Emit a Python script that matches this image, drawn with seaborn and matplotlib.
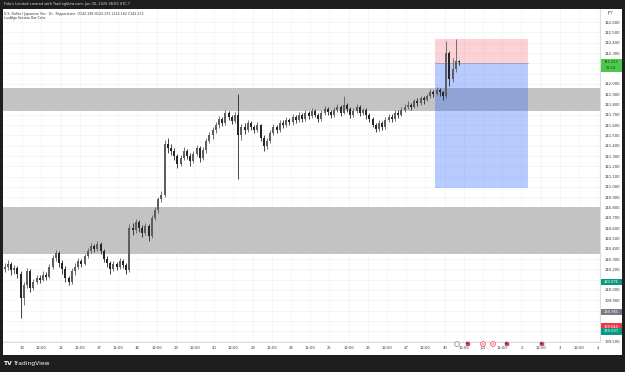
import matplotlib
matplotlib.use("Agg")
import matplotlib.pyplot as plt
import matplotlib.transforms as mtransforms
from matplotlib.patches import Rectangle, Circle
import numpy as np
import pandas as pd
import seaborn as sns

sns.set_theme(style="white")
plt.rcParams['font.family'] = ['DejaVu Sans']

# ---------------- data (2h candles, USD/JPY) ----------------
first_open = 140.20
close = [
    # Jun 12 (from 12:00)
    140.22, 140.25, 140.19, 140.21, 140.16, 139.92,
    # Jun 13
    140.05, 140.18, 140.02, 140.08, 140.12, 140.10, 140.15, 140.13, 140.22, 140.31, 140.36, 140.26,
    # Jun 16
    140.20, 140.12, 140.08, 140.18, 140.22, 140.28, 140.25, 140.33, 140.38, 140.43, 140.40, 140.45,
    # Jun 17
    140.38, 140.30, 140.26, 140.20, 140.25, 140.22, 140.28, 140.24, 140.19, 140.60, 140.58, 140.66,
    # Jun 18
    140.60, 140.55, 140.62, 140.52, 140.70, 140.78, 140.88, 140.92, 141.42, 141.38, 141.35, 141.30,
    # Jun 19
    141.22, 141.28, 141.35, 141.30, 141.25, 141.32, 141.38, 141.28, 141.36, 141.45, 141.50, 141.55,
    # Jun 20
    141.60, 141.66, 141.62, 141.72, 141.68, 141.64, 141.70, 141.50, 141.58, 141.55, 141.62, 141.58,
    # Jun 23
    141.55, 141.60, 141.48, 141.40, 141.45, 141.52, 141.58, 141.55, 141.62, 141.60, 141.65, 141.63,
    # Jun 24
    141.68, 141.65, 141.70, 141.66, 141.72, 141.69, 141.74, 141.70, 141.66, 141.72, 141.76, 141.73,
    # Jun 25
    141.70, 141.75, 141.78, 141.72, 141.80, 141.76, 141.70, 141.74, 141.78, 141.72, 141.75, 141.70,
    # Jun 26
    141.66, 141.60, 141.56, 141.62, 141.58, 141.65, 141.68, 141.66, 141.72, 141.70, 141.75, 141.78,
    # Jun 27
    141.80, 141.78, 141.83, 141.82, 141.86, 141.84, 141.88, 141.92, 141.90, 141.94, 141.92, 141.88,
    # Jun 30
    142.30, 142.05, 142.15, 142.22, 142.213,
]
high = [
    140.26, 140.29, 140.27, 140.24, 140.23, 140.18,
    140.08, 140.21, 140.20, 140.11, 140.15, 140.15, 140.18, 140.17, 140.25, 140.34, 140.39, 140.38,
    140.29, 140.23, 140.14, 140.21, 140.26, 140.31, 140.30, 140.35, 140.41, 140.46, 140.45, 140.48,
    140.47, 140.40, 140.33, 140.28, 140.28, 140.27, 140.31, 140.30, 140.26, 140.64, 140.65, 140.69,
    140.68, 140.63, 140.65, 140.64, 140.73, 140.81, 140.90, 140.96, 141.46, 141.48, 141.42, 141.38,
    141.32, 141.31, 141.39, 141.37, 141.33, 141.35, 141.41, 141.40, 141.39, 141.48, 141.53, 141.58,
    141.63, 141.69, 141.68, 141.75, 141.74, 141.70, 141.73, 141.90, 141.61, 141.62, 141.65, 141.64,
    141.60, 141.63, 141.61, 141.50, 141.48, 141.55, 141.61, 141.60, 141.65, 141.65, 141.68, 141.67,
    141.71, 141.70, 141.73, 141.72, 141.75, 141.74, 141.77, 141.76, 141.72, 141.75, 141.79, 141.78,
    141.75, 141.78, 141.81, 141.80, 141.88, 141.82, 141.78, 141.77, 141.81, 141.80, 141.77, 141.77,
    141.72, 141.68, 141.62, 141.65, 141.64, 141.68, 141.71, 141.71, 141.75, 141.75, 141.78, 141.81,
    141.83, 141.82, 141.85, 141.86, 141.88, 141.88, 141.90, 141.95, 141.94, 141.97, 141.96, 141.93,
    142.42, 142.32, 142.25, 142.44, 142.235,
]
low = [
    140.17, 140.19, 140.15, 140.16, 140.12, 139.73,
    139.85, 140.02, 139.98, 140.00, 140.06, 140.07, 140.09, 140.10, 140.12, 140.20, 140.28, 140.22,
    140.16, 140.08, 140.05, 140.06, 140.15, 140.20, 140.22, 140.24, 140.31, 140.36, 140.37, 140.38,
    140.35, 140.27, 140.22, 140.16, 140.18, 140.19, 140.20, 140.21, 140.16, 140.17, 140.53, 140.55,
    140.56, 140.51, 140.53, 140.48, 140.50, 140.68, 140.75, 140.85, 140.90, 141.33, 141.31, 141.26,
    141.18, 141.20, 141.26, 141.27, 141.20, 141.23, 141.30, 141.24, 141.26, 141.33, 141.43, 141.47,
    141.52, 141.57, 141.59, 141.60, 141.65, 141.61, 141.62, 141.08, 141.46, 141.51, 141.53, 141.55,
    141.52, 141.53, 141.45, 141.35, 141.37, 141.43, 141.50, 141.52, 141.53, 141.57, 141.58, 141.60,
    141.60, 141.62, 141.63, 141.63, 141.64, 141.66, 141.67, 141.68, 141.63, 141.64, 141.70, 141.70,
    141.67, 141.68, 141.73, 141.69, 141.71, 141.73, 141.67, 141.68, 141.72, 141.69, 141.70, 141.66,
    141.63, 141.58, 141.53, 141.54, 141.55, 141.56, 141.63, 141.63, 141.64, 141.67, 141.69, 141.73,
    141.76, 141.75, 141.77, 141.79, 141.80, 141.81, 141.83, 141.86, 141.87, 141.89, 141.88, 141.84,
    141.86, 141.98, 142.02, 142.12, 142.182,
]
day_labels = ["13", "16", "17", "18", "19", "20", "23", "24", "25", "26", "27",
              "30", "Jul", "2", "3", "4"]
first_day_offset = 6      # candles of Jun 12 shown before Jun 13
candles_per_day = 12

upper_zone = (141.738, 141.961)
lower_zone = (140.350, 140.806)
pos_entry, pos_stop, pos_target = 142.20, 142.44, 140.99
pos_start, pos_end = 134.5, 163.6

last_price = 142.213
side_labels = [(140.076, "140.076", "#089981"), (139.785, "139.785", "#787b86"),
               (139.644, "139.644", "#f23645"), (139.597, "139.597", "#089981")]

# ---------------- figure ----------------
W, H = 625, 372
XMIN, XMAX = -0.5, 186.06
YMIN, YMAX = 139.495, 142.728
fig = plt.figure(figsize=(W / 100, H / 100), dpi=100, facecolor="#1e1e1e")
fig.patches.append(Rectangle((3 / W, (H - 355) / H), (622 - 3) / W, (355 - 9) / H,
                             transform=fig.transFigure, facecolor="white",
                             edgecolor="none", zorder=-5))

ax = fig.add_axes([3 / W, (H - 342) / H, 597 / W, 333 / H])
ax.set_zorder(2)
ax.set_facecolor("white")

n = len(close)
opens = [first_open] + close[:-1]
df = pd.DataFrame({"i": np.arange(n), "open": opens, "high": high,
                   "low": low, "close": close})
df["up"] = df["close"] >= df["open"]

# zones
for lo, hi in (upper_zone, lower_zone):
    ax.axhspan(lo, hi, color="#c3c3c3", zorder=1, lw=0)

# position box
ax.add_patch(Rectangle((pos_start, pos_entry), pos_end - pos_start, pos_stop - pos_entry,
                       facecolor="#f23645", alpha=0.22, edgecolor="none", zorder=2))
ax.add_patch(Rectangle((pos_start, pos_target), pos_end - pos_start, pos_entry - pos_target,
                       facecolor="#2962ff", alpha=0.33, edgecolor="none", zorder=2))
ax.plot([pos_start, pos_end], [pos_entry, pos_entry], color="#9598a1", lw=0.5, zorder=2.5)

# candles
col_up, col_dn = "#5e5e5e", "#262626"
for _, r in df.iterrows():
    c = col_up if r["up"] else col_dn
    ax.vlines(r["i"], r["low"], r["high"], color=c, lw=0.6, zorder=3)
    bot = min(r["open"], r["close"])
    h = max(abs(r["close"] - r["open"]), 0.006)
    ax.bar(r["i"], h, bottom=bot, width=0.62, color=c, lw=0, zorder=3.5)

# x ticks (only those inside the view)
xt, xl = [], []
for k, lab in enumerate(day_labels):
    s = first_day_offset + k * candles_per_day - 0.5
    for pos, txt in ((s, lab), (s + candles_per_day / 2, "12:00")):
        if XMIN <= pos <= XMAX:
            xt.append(pos); xl.append(txt)
ax.set_xticks(xt)
ax.set_xticklabels(xl)
ax.tick_params(axis="x", length=0, pad=3.2, labelsize=2.7, colors="#333333")

# y ticks (right); labels hidden where a coloured price tag covers them
px = 103.0  # pixels per 1.0 price
yt = np.round(np.arange(139.5, 142.65, 0.1), 1)
covered = [last_price] + [p for p, _, _ in side_labels]
ylabs = []
for v in yt:
    hidden = any(abs(v - p) * px < 7.5 for p in covered) or (last_price - 13 / px < v < last_price)
    ylabs.append("" if hidden else f"{v:.3f}")
ax.yaxis.tick_right()
ax.set_yticks(yt)
ax.set_yticklabels(ylabs)
ax.tick_params(axis="y", length=0, pad=3, labelsize=2.7, colors="#333333")

# axes limits (after ticks so they are not expanded)
ax.set_xlim(XMIN, XMAX)
ax.set_ylim(YMIN, YMAX)

ax.grid(True, color="#f0f0f0", lw=0.4)
ax.set_axisbelow(True)
for s in ("left", "top"):
    ax.spines[s].set_visible(False)
for s in ("right", "bottom"):
    ax.spines[s].set_color("#d6d6d6")
    ax.spines[s].set_linewidth(0.6)

# price-axis labels
btr = mtransforms.blended_transform_factory(fig.transFigure, ax.transData)

def axis_label(price, text, color, tcolor="white", h_px=6.5):
    hh = h_px / px
    ax.add_patch(Rectangle((600.5 / W, price - hh / 2), 21 / W, hh,
                           transform=btr, facecolor=color, edgecolor="none",
                           zorder=10, clip_on=False))
    ax.text(611 / W, price, text, transform=btr, ha="center", va="center",
            fontsize=2.6, color=tcolor, zorder=11, clip_on=False)

# green current price label (two lines)
hh = 7 / px
ax.add_patch(Rectangle((600.5 / W, last_price - 13 / px + hh / 2), 21 / W, 13 / px,
                       transform=btr, facecolor="#4cc94c", edgecolor="none",
                       zorder=10, clip_on=False))
ax.text(611 / W, last_price + 0.4 / px, f"{last_price:.3f}", transform=btr, ha="center",
        va="center", fontsize=2.5, color="#123d12", zorder=11, clip_on=False)
ax.text(611 / W, last_price - 5.6 / px, "22:14", transform=btr, ha="center",
        va="center", fontsize=2.5, color="#123d12", zorder=11, clip_on=False)
for p, t, c in side_labels:
    axis_label(p, t, c)

fig.text(607 / W, (H - 13) / H, "JPY", fontsize=2.7, color="#333333", va="center")

# header texts
fig.text(4 / W, (H - 4.5) / H,
         "Fida's Limited created with TradingView.com, Jun 30, 2025 08:03 UTC-7",
         fontsize=2.5, color="#dddddd", va="center")
fig.text(4 / W, (H - 13.5) / H,
         "U.S. Dollar / Japanese Yen · 1h · Pepperstone  O142.198 H142.235 L142.182 C142.213",
         fontsize=2.3, color="#333333", va="center", zorder=20)
fig.text(4 / W, (H - 18.5) / H, "LuxAlgo Session Bar Color",
         fontsize=2.3, color="#333333", va="center", zorder=20)

# event icons
icons = [(457, "clock"), (468, "flag"), (483, "red"), (493, "red"), (507, "flag"), (542, "flag")]
for x, kind in icons:
    if kind == "clock":
        fig.patches.append(Circle((x, H - 344), 2.4, transform=None, facecolor="white",
                                  edgecolor="#787b86", lw=0.5, zorder=12))
    elif kind == "red":
        fig.patches.append(Circle((x, H - 344), 2.4, transform=None, facecolor="white",
                                  edgecolor="#f23645", lw=0.5, zorder=12))
        fig.patches.append(Circle((x, H - 344), 0.8, transform=None, facecolor="#f23645",
                                  edgecolor="none", zorder=13))
    else:
        fig.patches.append(Circle((x, H - 344), 2.6, transform=None, facecolor="#d8414b",
                                  edgecolor="#f0f0f0", lw=0.4, zorder=12))
        fig.patches.append(Circle((x - 0.9, H - 343.2), 1.2, transform=None, facecolor="#2f4a9a",
                                  edgecolor="none", zorder=13))

# bottom bar logo
fig.text(4 / W, (H - 363.5) / H, "TV", fontsize=4.3, color="white",
         fontweight="bold", va="center")
fig.text(13 / W, (H - 363.5) / H, "TradingView", fontsize=4.3, color="white",
         va="center")

fig.savefig("out.png", dpi=100, facecolor=fig.get_facecolor())
